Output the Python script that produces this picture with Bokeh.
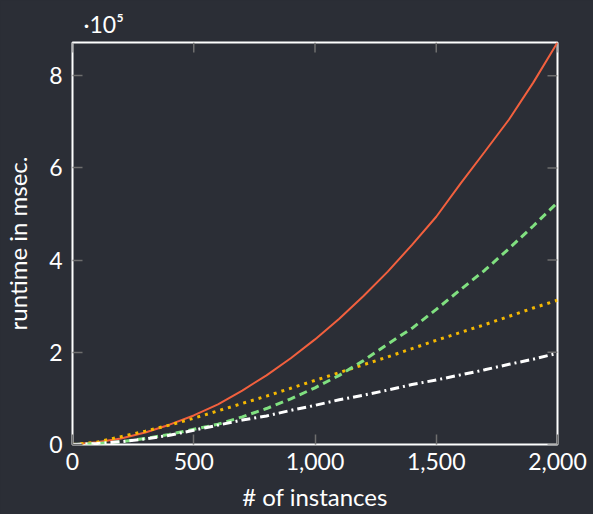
import math
from bokeh.plotting import figure
from bokeh.models import Range1d, FixedTicker, NumeralTickFormatter, Title
from bokeh.embed import file_html
from bokeh.resources import INLINE

# ---- data (runtime in units of 1e5 msec) ----
instances = [0, 100, 200, 300, 400, 500, 600, 700, 800, 900, 1000,
             1100, 1200, 1300, 1400, 1500, 1600, 1700, 1800, 1900, 2000]
runtime_red = [0.0, 0.05, 0.13, 0.26, 0.43, 0.63, 0.87, 1.17, 1.50, 1.87, 2.28,
               2.73, 3.22, 3.75, 4.33, 4.94, 5.66, 6.35, 7.05, 7.85, 8.72]
runtime_yellow = [0.0, 0.05, 0.17, 0.29, 0.42, 0.57, 0.73, 0.89, 1.05, 1.22, 1.39,
                  1.56, 1.73, 1.90, 2.08, 2.26, 2.43, 2.60, 2.78, 2.96, 3.13]
runtime_green = [0.0, 0.02, 0.06, 0.13, 0.22, 0.33, 0.44, 0.60, 0.78, 0.99, 1.23,
                 1.50, 1.82, 2.18, 2.52, 2.93, 3.36, 3.78, 4.25, 4.74, 5.25]
runtime_white = [0.0, 0.02, 0.06, 0.12, 0.20, 0.31, 0.42, 0.53, 0.62, 0.74, 0.85,
                 0.97, 1.07, 1.18, 1.30, 1.40, 1.51, 1.62, 1.74, 1.85, 1.98]

x_ticks = [0, 500, 1000, 1500, 2000]
y_ticks = [0, 2, 4, 6, 8]
scale_text = "·10⁵"
X_MAX = 2000
Y_MAX = 8.72

BG = "#2b2e36"
FONT = "Lato"
TICK = "#6e6e6e"

p = figure(width=593, height=514, output_backend="svg", toolbar_location=None,
           x_range=Range1d(0, X_MAX), y_range=Range1d(0, Y_MAX),
           min_border_left=72, min_border_right=36, min_border_top=42,
           min_border_bottom=70)
p.background_fill_color = BG
p.border_fill_color = BG
p.outline_line_color = "white"
p.outline_line_width = 2
p.xgrid.visible = False
p.ygrid.visible = False

for ax in (p.xaxis[0], p.yaxis[0]):
    ax.axis_line_color = None
    ax.major_tick_in = 10
    ax.major_tick_out = 0
    ax.major_tick_line_color = TICK
    ax.major_tick_line_width = 1.5
    ax.minor_tick_line_color = None
    ax.major_label_text_color = "white"
    ax.major_label_text_font = FONT
    ax.major_label_text_font_size = "23px"
    ax.axis_label_text_color = "white"
    ax.axis_label_text_font = FONT
    ax.axis_label_text_font_size = "24px"
    ax.axis_label_text_font_style = "normal"

p.xaxis[0].ticker = FixedTicker(ticks=x_ticks)
p.xaxis[0].formatter = NumeralTickFormatter(format="0,0")
p.xaxis[0].axis_label = "# of instances"
p.xaxis[0].major_label_standoff = 8
p.xaxis[0].axis_label_standoff = 9

p.yaxis[0].ticker = FixedTicker(ticks=y_ticks)
p.yaxis[0].axis_label = "runtime in msec."
p.yaxis[0].major_label_standoff = 10
p.yaxis[0].axis_label_standoff = 14

# mirrored ticks on top and right edges (screen-length rays)
p.ray(x=x_ticks, y=[Y_MAX] * len(x_ticks), length=10, length_units="screen",
      angle=-math.pi / 2, line_color=TICK, line_width=1.5)
p.ray(x=[X_MAX] * len(y_ticks), y=y_ticks, length=10, length_units="screen",
      angle=math.pi, line_color=TICK, line_width=1.5)

# scale factor above the y axis
p.add_layout(Title(text=scale_text, align="left", offset=11, text_color="white",
                   text_font=FONT, text_font_size="23px", text_font_style="normal",
                   standoff=10), "above")

p.line(instances, runtime_red, line_color="#f2603e", line_width=2)
p.line(instances, runtime_yellow, line_color="#f5b800", line_width=3, line_dash="3 5")
p.line(instances, runtime_green, line_color="#80e080", line_width=3, line_dash="8 5")
p.line(instances, runtime_white, line_color="white", line_width=3, line_dash="9 4 2 4")

html = file_html(p, INLINE)
style = "<style>html, body { background-color: %s !important; }</style>" % BG
html = html.replace("</head>", style + "</head>", 1)
open("out.html", "w").write(html)
